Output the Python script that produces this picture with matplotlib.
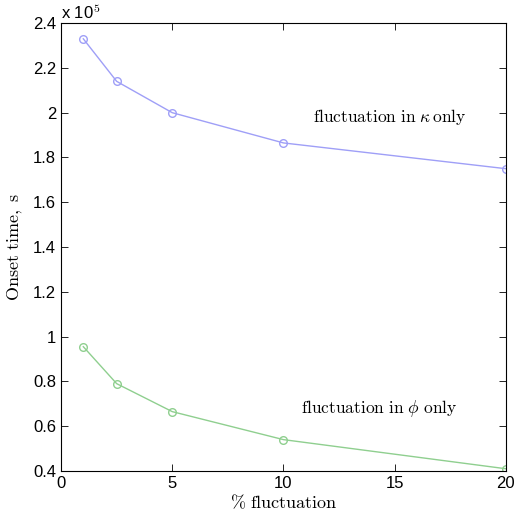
import matplotlib
matplotlib.use("Agg")
import matplotlib.pyplot as plt
from matplotlib.ticker import FuncFormatter

# data
fluct = [1, 2.5, 5, 10, 20]
onset_kappa = [2.33e5, 2.14e5, 2.00e5, 1.865e5, 1.75e5]
onset_phi = [0.955e5, 0.79e5, 0.665e5, 0.54e5, 0.41e5]

plt.rcParams['mathtext.fontset'] = 'cm'
plt.rcParams['font.family'] = ['Liberation Sans', 'DejaVu Sans']

fig = plt.figure(figsize=(5.22, 5.14), dpi=100)
ax = fig.add_axes([0.117, 0.0837, 0.852, 0.8713])

ax.plot(fluct, onset_kappa, color='#9f9ff7', marker='o', markersize=5.5,
        markerfacecolor='none', linewidth=1.0)
ax.plot(fluct, onset_phi, color='#8fcf8f', marker='o', markersize=5.5,
        markerfacecolor='none', linewidth=1.0)

ax.set_xlim(0, 20)
ax.set_ylim(0.4e5, 2.4e5)
ax.set_xticks([0, 5, 10, 15, 20])
ax.set_yticks([0.4e5, 0.6e5, 0.8e5, 1.0e5, 1.2e5, 1.4e5, 1.6e5, 1.8e5, 2.0e5, 2.2e5, 2.4e5])
ax.yaxis.set_major_formatter(FuncFormatter(lambda v, p: '%g' % round(v / 1e5, 2)))
ax.tick_params(direction='in', top=True, right=True, length=5, labelsize=12, width=0.6)
for s in ax.spines.values():
    s.set_linewidth(0.8)

ax.set_xlabel(r'$\mathrm{\%\ fluctuation}$', fontsize=13, labelpad=2)
ax.set_ylabel(r'$\mathrm{Onset\ time,\ s}$', fontsize=13, labelpad=6)

ax.text(0.0, 1.003, r'x 10$^{5}$', transform=ax.transAxes, fontsize=12,
        ha='left', va='bottom')

ax.text(14.8, 1.98e5, r'$\mathrm{fluctuation\ in}\ \kappa\,\mathrm{only}$', fontsize=12.5,
        ha='center', va='center')
ax.text(14.3, 0.68e5, r'$\mathrm{fluctuation\ in}\ \phi\ \mathrm{only}$', fontsize=12.5,
        ha='center', va='center')

fig.savefig('out.png', dpi=100)
